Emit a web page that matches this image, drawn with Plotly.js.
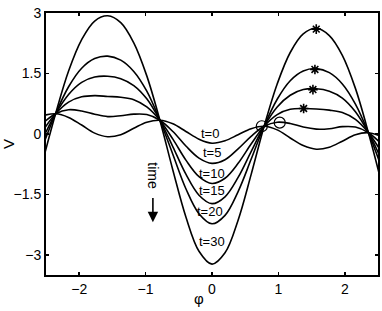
<!DOCTYPE html>
<html>
<head>
<meta charset="utf-8">
<script src="https://cdn.plot.ly/plotly-3.0.1.min.js"></script>
<style>
  html, body { margin: 0; padding: 0; background: #fff; }
  #chart { width: 382px; height: 311px; }
</style>
</head>
<body>
<div id="chart"></div>
<script>
// phase grid
var phi = [-2.553, -2.356, -2.160, -1.963, -1.767, -1.571, -1.374, -1.178, -0.982, -0.785,
  -0.589, -0.393, -0.196, 0, 0.196, 0.393, 0.589, 0.785, 0.982, 1.178, 1.374, 1.571,
  1.767, 1.963, 2.160, 2.356, 2.553];

var v0 = [0.45, 0.50, 0.41, 0.22, 0.02, -0.07, -0.02, 0.14, 0.29, 0.34, 0.25, 0.06, -0.13,
  -0.23, -0.17, -0.02, 0.13, 0.19, 0.10, -0.10, -0.29, -0.38, -0.33, -0.18, -0.02, 0.03, -0.06];
var v5 = [0.26, 0.50, 0.60, 0.57, 0.49, 0.43, 0.45, 0.49, 0.48, 0.34, 0.06, -0.30, -0.60,
  -0.73, -0.64, -0.37, -0.06, 0.19, 0.29, 0.26, 0.17, 0.12, 0.13, 0.18, 0.17, 0.03, -0.25];
var v10 = [0.07, 0.50, 0.79, 0.92, 0.95, 0.93, 0.91, 0.85, 0.67, 0.34, -0.13, -0.65, -1.06,
  -1.23, -1.10, -0.73, -0.25, 0.19, 0.48, 0.61, 0.63, 0.62, 0.59, 0.53, 0.36, 0.03, -0.45];
var v15 = [-0.13, 0.50, 0.98, 1.28, 1.41, 1.43, 1.37, 1.20, 0.87, 0.34, -0.32, -1.00, -1.52,
  -1.73, -1.56, -1.08, -0.44, 0.19, 0.67, 0.96, 1.10, 1.12, 1.06, 0.89, 0.55, 0.03, -0.64];
var v20 = [-0.32, 0.50, 1.17, 1.63, 1.87, 1.93, 1.83, 1.55, 1.06, 0.34, -0.51, -1.36, -1.98,
  -2.23, -2.02, -1.43, -0.63, 0.19, 0.86, 1.32, 1.56, 1.62, 1.52, 1.24, 0.74, 0.03, -0.83];
var v30 = [-0.70, 0.50, 1.56, 2.34, 2.80, 2.93, 2.76, 2.26, 1.44, 0.34, -0.90, -2.06, -2.91,
  -3.23, -2.95, -2.14, -1.01, 0.19, 1.24, 2.02, 2.48, 2.62, 2.44, 1.95, 1.13, 0.03, -1.21];

// maxima marks
var starX = [1.38, 1.52, 1.55, 1.57];
var starY = [0.63, 1.10, 1.60, 2.60];
var circX = [0.75, 1.02];
var circY = [0.19, 0.28];

// curve labels
var labelText = ['t=0', 't=5', 't=10', 't=15', 't=20', 't=30'];
var labelX = [-0.03, 0, 0, 0, -0.03, 0];
var labelY = [0.02, -0.46, -0.97, -1.41, -1.93, -2.68];

var series = [v0, v5, v10, v15, v20, v30];
var data = series.map(function (v) {
  return {
    x: phi, y: v, type: 'scatter', mode: 'lines',
    line: {color: '#000', width: 1.6, shape: 'spline', smoothing: 1},
    hoverinfo: 'skip'
  };
});
data.push({
  x: starX, y: starY, type: 'scatter', mode: 'markers',
  marker: {symbol: 'asterisk-open', size: 8, color: '#000', line: {color: '#000', width: 1.6}}
});
data.push({
  x: circX, y: circY, type: 'scatter', mode: 'markers',
  marker: {symbol: 'circle-open', size: 11, color: '#000', line: {color: '#000', width: 1.2}}
});

var annotations = labelText.map(function (t, i) {
  return {
    x: labelX[i], y: labelY[i], text: t, showarrow: false,
    font: {family: 'Liberation Sans, Arial, sans-serif', size: 13, color: '#000'},
    bgcolor: 'rgba(0,0,0,0)'
  };
});
annotations.push({
  x: -0.89, y: -1.05, text: 'time', showarrow: false, textangle: 90,
  font: {family: 'Liberation Sans, Arial, sans-serif', size: 14, color: '#000'}
});
annotations.push({
  x: -0.89, y: -2.19, ax: -0.89, ay: -1.55, axref: 'x', ayref: 'y',
  text: '', showarrow: true, arrowhead: 2, arrowsize: 1.3, arrowwidth: 1.6, arrowcolor: '#000'
});
annotations.push({
  x: -0.2, y: -3.5, yshift: -23, text: 'φ', showarrow: false,
  font: {family: 'Liberation Sans, Arial, sans-serif', size: 15, color: '#000'}
});

var axisFont = {family: 'Liberation Sans, Arial, sans-serif', size: 14, color: '#000'};

var layout = {
  width: 382,
  height: 311,
  margin: {l: 46, r: 4, t: 13, b: 36},
  paper_bgcolor: '#fff',
  plot_bgcolor: '#fff',
  showlegend: false,
  xaxis: {
    range: [-2.5, 2.5],
    tickvals: [-2, -1, 0, 1, 2],
    ticks: 'inside', ticklen: 3, tickwidth: 1.5, tickcolor: '#000',
    showline: true, linewidth: 2, linecolor: '#000', mirror: 'ticks',
    showgrid: false, zeroline: false,
    tickfont: axisFont
  },
  yaxis: {
    range: [-3.5, 3],
    tickvals: [-3, -1.5, 0, 1.5, 3],
    ticks: 'inside', ticklen: 3, tickwidth: 1.5, tickcolor: '#000',
    showline: true, linewidth: 2, linecolor: '#000', mirror: 'ticks',
    showgrid: false, zeroline: false,
    tickfont: axisFont,
    title: {text: 'V', font: {family: 'Liberation Sans, Arial, sans-serif', size: 15, color: '#000'}, standoff: 6}
  },
  annotations: annotations
};

Plotly.newPlot('chart', data, layout, {displayModeBar: false, staticPlot: true});
</script>
</body>
</html>
